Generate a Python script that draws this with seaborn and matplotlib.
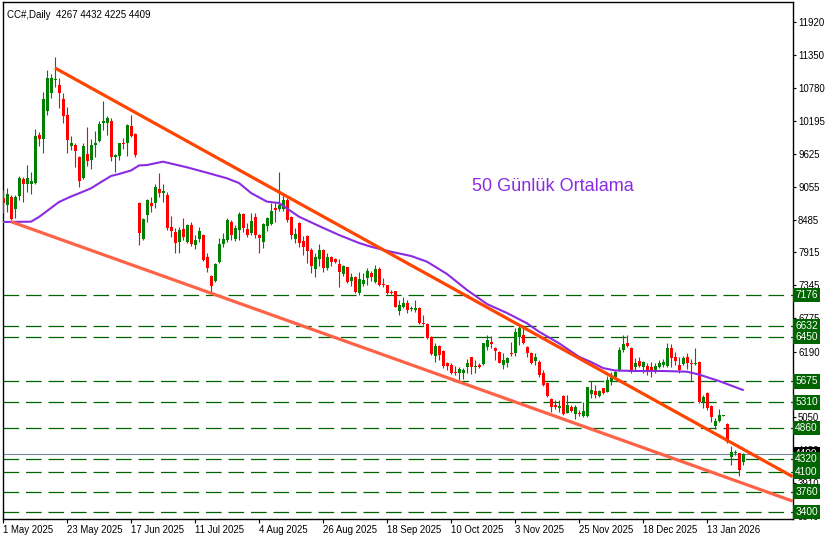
import numpy as np
import pandas as pd
import matplotlib
matplotlib.use("Agg")
import matplotlib.pyplot as plt
import matplotlib.transforms as mtransforms
import seaborn as sns

sns.set_style("white")
plt.rcParams["font.family"] = ["Liberation Sans", "DejaVu Sans"]

# ---------------- data (CC#, Daily) ----------------
opens = [8856, 8740, 8885, 8665, 8897, 9192, 9105, 9105, 9129, 9957,
         9882, 10374, 10692, 10913, 10826, 10582, 10304, 9771, 9783, 9580,
         9209, 9627, 9522, 9783, 9858, 10171, 10160, 10200, 9569, 9592,
         9812, 9824, 10113, 9974, 8781, 8155, 8566, 8780, 8780, 9018,
         8943, 8914, 8352, 8277, 8103, 8323, 8103, 8392, 8045, 8149,
         8219, 7842, 7506, 7425, 7755, 8062, 8132, 8450, 8149, 8305,
         8584, 8323, 8259, 8537, 8219, 8091, 8381, 8404, 8682, 8665,
         8665, 8827, 8526, 8149, 8421, 8120, 8201, 7958, 7622, 7796,
         7958, 7639, 7830, 7801, 7715, 7541, 7657, 7425, 7494, 7216,
         7367, 7477, 7564, 7408, 7633, 7367, 7344, 7234, 7245, 6904,
         6973, 7031, 6927, 6915, 6956, 6695, 6672, 6452, 6116, 6296,
         6208, 5988, 5959, 5843, 5814, 5814, 5919, 6092, 5919, 5959,
         5971, 6278, 6353, 6260, 6191, 5959, 5988, 6162, 6173, 6452,
         6481, 6278, 6173, 6034, 6017, 5826, 5652, 5362, 5264, 5206,
         5420, 5131, 5235, 5108, 5131, 5073, 5073, 5455, 5513, 5426,
         5553, 5496, 5669, 5745, 5872, 6220, 6347, 6260, 5930, 6028,
         5930, 5947, 5930, 5860, 5930, 5959, 5942, 6260, 6104, 5959,
         5976, 6092, 5988, 5976, 6017, 5322, 5478, 5246, 4899, 4991,
         5075, 4934, 4366, 4424, 4424, 4267]
highs = [9001, 9030, 8914, 8914, 9245, 9233, 9435, 9320, 10056, 10015,
         10710, 11086, 11017, 11307, 10941, 10681, 10449, 9940, 9812, 9592,
         9812, 10102, 9882, 10026, 10206, 10553, 10293, 10246, 9627, 9824,
         9899, 10148, 10304, 9986, 8798, 8509, 8839, 8873, 9105, 9290,
         9105, 8960, 8549, 8334, 8363, 8508, 8410, 8450, 8219, 8363,
         8236, 7900, 7520, 7738, 8161, 8248, 8508, 8479, 8392, 8624,
         8595, 8421, 8595, 8595, 8236, 8421, 8526, 8769, 8798, 9319,
         8943, 8856, 8549, 8334, 8450, 8201, 8210, 7987, 7900, 8062,
         7969, 7900, 7854, 7813, 7796, 7697, 7668, 7552, 7500, 7581,
         7560, 7639, 7599, 7697, 7657, 7465, 7350, 7263, 7250, 7089,
         7147, 7089, 6985, 7089, 6960, 6828, 6683, 6460, 6336, 6307,
         6220, 6017, 5988, 5942, 5919, 5901, 6058, 6104, 6046, 6000,
         6340, 6481, 6463, 6266, 6208, 6173, 6104, 6365, 6596, 6654,
         6654, 6289, 6191, 6162, 6046, 5872, 5660, 5380, 5351, 5351,
         5438, 5438, 5264, 5264, 5177, 5322, 5583, 5687, 5612, 5520,
         5560, 5768, 5843, 5850, 6278, 6480, 6480, 6266, 6075, 6092,
         6034, 5999, 6017, 5999, 6046, 6057, 6335, 6324, 6191, 6092,
         6115, 6173, 6057, 6249, 6030, 5438, 5496, 5264, 5032, 5188,
         5090, 4945, 4551, 4482, 4435, 4432]
lows = [8607, 8624, 8480, 8521, 8827, 8798, 8972, 8931, 9110, 9771,
        9650, 10304, 10594, 10797, 10420, 10160, 9638, 9696, 9406, 9059,
        9190, 9418, 9360, 9569, 9840, 10044, 9957, 9511, 9320, 9522,
        9708, 9592, 9916, 9569, 8045, 8132, 8451, 8624, 8682, 8885,
        8798, 8305, 8190, 7912, 7912, 8132, 8085, 8027, 7969, 8103,
        7773, 7581, 7234, 7410, 7740, 8016, 8103, 8132, 8114, 8132,
        8277, 8190, 8219, 8172, 7912, 7998, 8294, 8392, 8450, 8640,
        8640, 8450, 8143, 8074, 8004, 7871, 7726, 7564, 7483, 7680,
        7581, 7610, 7680, 7738, 7321, 7506, 7379, 7332, 7205, 7176,
        7332, 7350, 7425, 7390, 7332, 7321, 7193, 7193, 6961, 6828,
        6944, 6857, 6904, 6886, 6666, 6654, 6417, 6140, 6017, 6046,
        5901, 5872, 5803, 5785, 5698, 5710, 5814, 5803, 5814, 5901,
        5959, 6220, 6249, 6046, 5988, 5884, 5930, 6116, 6116, 6307,
        6330, 6104, 5977, 5959, 5756, 5594, 5409, 5148, 5189, 5148,
        5090, 5119, 5148, 5015, 5073, 5050, 5060, 5380, 5380, 5410,
        5455, 5484, 5611, 5710, 5860, 6191, 6280, 5826, 5872, 5918,
        5826, 5785, 5756, 5814, 5901, 5930, 5930, 5918, 5959, 5814,
        5959, 5884, 5687, 5959, 5304, 5206, 5177, 4974, 4841, 4974,
        5068, 4609, 4221, 4395, 4030, 4225]
closes = [8769, 8931, 8492, 8885, 9216, 9105, 9204, 9163, 9940, 9882,
          10582, 10941, 10941, 10930, 10692, 10287, 9870, 9812, 9684, 9163,
          9766, 9511, 9783, 9812, 10148, 10206, 10246, 9580, 9609, 9812,
          9800, 10125, 9945, 9603, 8259, 8497, 8827, 8728, 9059, 8954,
          8983, 8346, 8294, 8085, 8305, 8190, 8392, 8056, 8132, 8288,
          7784, 7651, 7332, 7709, 8062, 8143, 8479, 8219, 8346, 8584,
          8334, 8219, 8468, 8219, 8172, 8410, 8508, 8636, 8653, 8740,
          8827, 8479, 8219, 8236, 8085, 8004, 7946, 7680, 7830, 7958,
          7639, 7842, 7755, 7755, 7581, 7680, 7408, 7483, 7234, 7448,
          7437, 7593, 7483, 7622, 7350, 7350, 7216, 7216, 6973, 7002,
          7031, 6915, 6950, 6956, 6683, 6672, 6434, 6150, 6290, 6133,
          5942, 5942, 5826, 5826, 5884, 5872, 6000, 5919, 5948, 5930,
          6336, 6394, 6324, 6208, 6000, 6046, 6087, 6145, 6538, 6596,
          6336, 6162, 5988, 6104, 5785, 5612, 5420, 5235, 5223, 5247,
          5108, 5264, 5165, 5235, 5108, 5165, 5571, 5525, 5438, 5513,
          5478, 5698, 5768, 5843, 6220, 6324, 6289, 5843, 5999, 5942,
          6011, 5860, 5872, 5947, 5999, 6017, 6249, 6075, 6034, 5872,
          6075, 5988, 5976, 5999, 5322, 5397, 5206, 5061, 4991, 5090,
          5080, 4627, 4453, 4453, 4134, 4409]

# 50-day moving average (bar index, value)
ma_idx = [0, 7, 9, 12, 14, 17, 19, 22, 24, 27, 29, 32, 34, 36, 40, 46, 51, 56,
          59, 62, 66, 69, 74, 79, 84, 89, 92, 97, 102, 106, 111, 116, 121, 126,
          131, 134, 139, 144, 147, 150, 153, 158, 165, 171, 174, 179, 185]
ma_val = [8445, 8450, 8532, 8688, 8792, 8888, 8943, 9030, 9117, 9244, 9279,
          9340, 9427, 9435, 9493, 9395, 9301, 9204, 9122, 8949, 8798, 8775,
          8537, 8375, 8219, 8080, 8015, 7928, 7854, 7755, 7541, 7263, 7019,
          6863, 6684, 6538, 6337, 6103, 6011, 5907, 5864, 5855, 5855, 5843,
          5794, 5681, 5525]

# trend lines (bar index, price)
upper_idx = [13, 197.4]
upper_val = [11121, 4020]
lower_idx = [2, 197.4]
lower_val = [8450, 3594]

levels = [7176, 6632, 6450, 5675, 5310, 4860, 4320, 4100, 3760, 3400]
last_price = 4409
y_ticks = [11920, 11350, 10780, 10195, 9625, 9055, 8485, 7915, 7345, 6775,
           6190, 5620, 5050, 4480, 3910, 3340]
date_labels = ["1 May 2025", "23 May 2025", "17 Jun 2025", "11 Jul 2025",
               "4 Aug 2025", "26 Aug 2025", "18 Sep 2025", "10 Oct 2025",
               "3 Nov 2025", "25 Nov 2025", "18 Dec 2025", "13 Jan 2026"]
date_idx = [0, 16, 32, 48, 64, 80, 96, 112, 128, 144, 160, 176]

title_text = "CC#,Daily  4267 4432 4225 4409"
note_text = "50 Günlük Ortalama"

# ---------------- figure ----------------
W, H = 832, 540
fig = plt.figure(figsize=(W / 100, H / 100), dpi=100)
fig.patch.set_facecolor("white")
ax = fig.add_axes([2.5 / W, (H - 519) / H, 790 / W, 517 / H])
ax.set_facecolor("white")

df = pd.DataFrame({"o": opens, "h": highs, "l": lows, "c": closes})
df["i"] = np.arange(len(df))
up = df["c"] >= df["o"]
dn = ~up
GREEN, RED = "#008000", "#ff0000"

ax.vlines(df["i"][up], df["l"][up], df["h"][up], color=GREEN, lw=0.8, zorder=3)
ax.vlines(df["i"][dn], df["l"][dn], df["h"][dn], color=RED, lw=0.8, zorder=3)
ax.bar(df["i"][up], (df["c"] - df["o"])[up].clip(lower=14), bottom=df["o"][up],
       width=0.75, color=GREEN, linewidth=0, zorder=3)
ax.bar(df["i"][dn], (df["o"] - df["c"])[dn].clip(lower=14), bottom=df["c"][dn],
       width=0.75, color=RED, linewidth=0, zorder=3)

# horizontal support/resistance levels
for lv in levels:
    ax.axhline(lv, color="#006400", lw=0.9, dashes=(12.5, 5.5), zorder=2)
ax.axhline(last_price, color="#778899", lw=0.8, zorder=2)

# moving average and trend lines
sns.lineplot(x=ma_idx, y=ma_val, ax=ax, color="#8a2be2", lw=1.5, zorder=4)
ax.plot(upper_idx, upper_val, color="#ff4500", lw=2.3, zorder=5, solid_capstyle="butt")
ax.plot(lower_idx, lower_val, color="#ff6347", lw=2.3, zorder=5, solid_capstyle="butt")

ax.text(117.3, 9053, note_text, color="#8a2be2", fontsize=13, ha="left",
        va="center", zorder=6)
ax.text(0.006, 0.984, title_text, transform=ax.transAxes, fontsize=7,
        ha="left", va="top", color="black")

ax.set_xlim(-0.125, 197.375)
ax.set_ylim(3283, 12268)

# axes / ticks
ax.yaxis.tick_right()
ax.set_yticks(y_ticks)
ax.set_yticklabels([str(v) for v in y_ticks])
ax.tick_params(axis="y", direction="out", length=2.5, width=0.8, pad=1.5,
               labelsize=6.9, colors="black", right=True, left=False)
ax.set_xticks(date_idx)
ax.set_xticklabels(date_labels)
for lbl in ax.get_xticklabels():
    lbl.set_horizontalalignment("left")
ax.tick_params(axis="x", direction="out", length=3, width=0.8, pad=1.5,
               labelsize=6.9, colors="black", bottom=True)
for s in ax.spines.values():
    s.set_color("black")
    s.set_linewidth(1.0)
    s.set_visible(True)
ax.set_xlabel("")
ax.set_ylabel("")
ax.grid(False)

# right-side price labels
trans = mtransforms.blended_transform_factory(ax.transAxes, ax.transData)
ax.text(1.0035, last_price, str(last_price), transform=trans, color="white",
        fontsize=7.3, ha="left", va="center", clip_on=False, zorder=9,
        bbox=dict(boxstyle="square,pad=0.22", fc="black", ec="none"))
for lv in levels:
    ax.text(1.0035, lv, str(lv), transform=trans, color="white", fontsize=7.3,
            ha="left", va="center", clip_on=False, zorder=10,
            bbox=dict(boxstyle="square,pad=0.22", fc="#006400", ec="none"))

fig.savefig("out.png", dpi=100, facecolor="white")
